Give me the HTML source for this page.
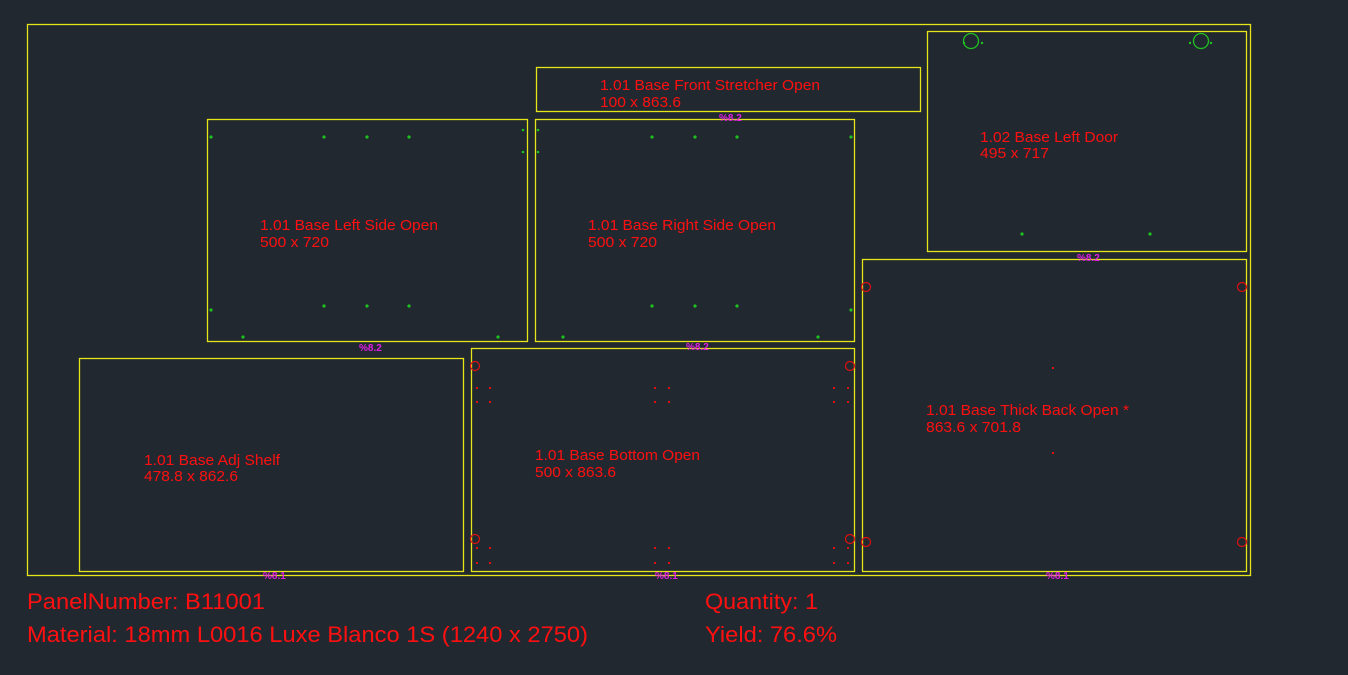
<!DOCTYPE html>
<html><head><style>
html,body{margin:0;padding:0;background:#212830;}
svg{display:block}
text{font-family:"Liberation Sans",sans-serif;fill:#ff1010}
</style></head><body>
<svg width="1348" height="675" viewBox="0 0 1348 675" xmlns="http://www.w3.org/2000/svg">
<rect width="1348" height="675" fill="#212830"/>
<g fill="none" stroke="#e5e51a" stroke-width="1.3">
<rect x="27.5" y="24.5" width="1223" height="551"/>
<rect x="536.5" y="67.5" width="384" height="44"/>
<rect x="207.5" y="119.5" width="320" height="222"/>
<rect x="535.5" y="119.5" width="319" height="222"/>
<rect x="927.5" y="31.5" width="319" height="220"/>
<rect x="862.5" y="259.5" width="384" height="312"/>
<rect x="79.5" y="358.5" width="384" height="213"/>
<rect x="471.5" y="348.5" width="383" height="223"/>
</g>
<g fill="#1fc21f">
<circle cx="211" cy="137" r="1.6"/><circle cx="324" cy="137" r="1.6"/><circle cx="367" cy="137" r="1.6"/><circle cx="409" cy="137" r="1.6"/>
<circle cx="523" cy="130" r="1.3"/><circle cx="523" cy="152" r="1.3"/><circle cx="538" cy="130" r="1.3"/><circle cx="538" cy="152" r="1.3"/>
<circle cx="211" cy="310" r="1.6"/><circle cx="324" cy="306" r="1.6"/><circle cx="367" cy="306" r="1.6"/><circle cx="409" cy="306" r="1.6"/>
<circle cx="243" cy="337" r="1.6"/><circle cx="498" cy="337" r="1.6"/>
<circle cx="652" cy="137" r="1.6"/><circle cx="695" cy="137" r="1.6"/><circle cx="737" cy="137" r="1.6"/><circle cx="851" cy="137" r="1.6"/>
<circle cx="652" cy="306" r="1.6"/><circle cx="695" cy="306" r="1.6"/><circle cx="737" cy="306" r="1.6"/><circle cx="851" cy="310" r="1.6"/>
<circle cx="563" cy="337" r="1.6"/><circle cx="818" cy="337" r="1.6"/>
<circle cx="1022" cy="234" r="1.6"/><circle cx="1150" cy="234" r="1.6"/>
<circle cx="964" cy="43" r="1.2"/><circle cx="982" cy="43" r="1.2"/><circle cx="1190" cy="43" r="1.2"/><circle cx="1211" cy="43" r="1.2"/>
</g>
<g fill="none" stroke="#1fc21f" stroke-width="1.3">
<circle cx="971" cy="41" r="7.5"/><circle cx="1201" cy="41" r="7.5"/>
</g>
<g fill="none" stroke="#e01010" stroke-width="1.2">
<circle cx="475" cy="366" r="4.5"/><circle cx="850" cy="366" r="4.5"/>
<circle cx="475" cy="539" r="4.5"/><circle cx="850" cy="539" r="4.5"/>
<circle cx="866" cy="287" r="4.5"/><circle cx="1242" cy="287" r="4.5"/>
<circle cx="866" cy="542" r="4.5"/><circle cx="1242" cy="542" r="4.5"/>
</g>
<g fill="#e01010">
<rect x="476" y="387" width="2" height="2"/><rect x="489" y="387" width="2" height="2"/><rect x="476" y="401" width="2" height="2"/><rect x="489" y="401" width="2" height="2"/>
<rect x="654" y="387" width="2" height="2"/><rect x="668" y="387" width="2" height="2"/><rect x="654" y="401" width="2" height="2"/><rect x="668" y="401" width="2" height="2"/>
<rect x="833" y="387" width="2" height="2"/><rect x="847" y="387" width="2" height="2"/><rect x="833" y="401" width="2" height="2"/><rect x="847" y="401" width="2" height="2"/>
<rect x="476" y="547" width="2" height="2"/><rect x="489" y="547" width="2" height="2"/><rect x="476" y="562" width="2" height="2"/><rect x="489" y="562" width="2" height="2"/>
<rect x="654" y="547" width="2" height="2"/><rect x="668" y="547" width="2" height="2"/><rect x="654" y="562" width="2" height="2"/><rect x="668" y="562" width="2" height="2"/>
<rect x="833" y="547" width="2" height="2"/><rect x="847" y="547" width="2" height="2"/><rect x="833" y="562" width="2" height="2"/><rect x="847" y="562" width="2" height="2"/>
<rect x="1052" y="367" width="2" height="2"/><rect x="1052" y="452" width="2" height="2"/>
</g>
<g font-size="10" font-weight="bold">
<text x="719" y="121" style="fill:#e020e0">%8.2</text>
<text x="359" y="351" style="fill:#e020e0">%8.2</text>
<text x="686" y="350" style="fill:#e020e0">%8.2</text>
<text x="1077" y="261" style="fill:#e020e0">%8.2</text>
<text x="263" y="579" style="fill:#e020e0">%8.1</text>
<text x="655" y="579" style="fill:#e020e0">%8.1</text>
<text x="1046" y="579" style="fill:#e020e0">%8.1</text>
</g>
<g font-size="15">
<text x="600" y="90" textLength="220" lengthAdjust="spacingAndGlyphs">1.01 Base Front Stretcher Open</text><text x="600" y="107" textLength="81" lengthAdjust="spacingAndGlyphs">100 x 863.6</text>
<text x="260" y="230" textLength="178" lengthAdjust="spacingAndGlyphs">1.01 Base Left Side Open</text><text x="260" y="247" textLength="69" lengthAdjust="spacingAndGlyphs">500 x 720</text>
<text x="588" y="230" textLength="188" lengthAdjust="spacingAndGlyphs">1.01 Base Right Side Open</text><text x="588" y="247" textLength="69" lengthAdjust="spacingAndGlyphs">500 x 720</text>
<text x="980" y="142" textLength="138" lengthAdjust="spacingAndGlyphs">1.02 Base Left Door</text><text x="980" y="158" textLength="69" lengthAdjust="spacingAndGlyphs">495 x 717</text>
<text x="926" y="415" textLength="203" lengthAdjust="spacingAndGlyphs">1.01 Base Thick Back Open *</text><text x="926" y="432" textLength="95" lengthAdjust="spacingAndGlyphs">863.6 x 701.8</text>
<text x="144" y="465" textLength="136" lengthAdjust="spacingAndGlyphs">1.01 Base Adj Shelf</text><text x="144" y="481" textLength="94" lengthAdjust="spacingAndGlyphs">478.8 x 862.6</text>
<text x="535" y="460" textLength="165" lengthAdjust="spacingAndGlyphs">1.01 Base Bottom Open</text><text x="535" y="477" textLength="81" lengthAdjust="spacingAndGlyphs">500 x 863.6</text>
</g>
<g font-size="22">
<text x="27" y="609" textLength="238" lengthAdjust="spacingAndGlyphs">PanelNumber: B11001</text>
<text x="27" y="642" textLength="561" lengthAdjust="spacingAndGlyphs">Material: 18mm L0016 Luxe Blanco 1S (1240 x 2750)</text>
<text x="705" y="609" textLength="113" lengthAdjust="spacingAndGlyphs">Quantity: 1</text>
<text x="705" y="642" textLength="132" lengthAdjust="spacingAndGlyphs">Yield: 76.6%</text>
</g>
</svg>
</body></html>
